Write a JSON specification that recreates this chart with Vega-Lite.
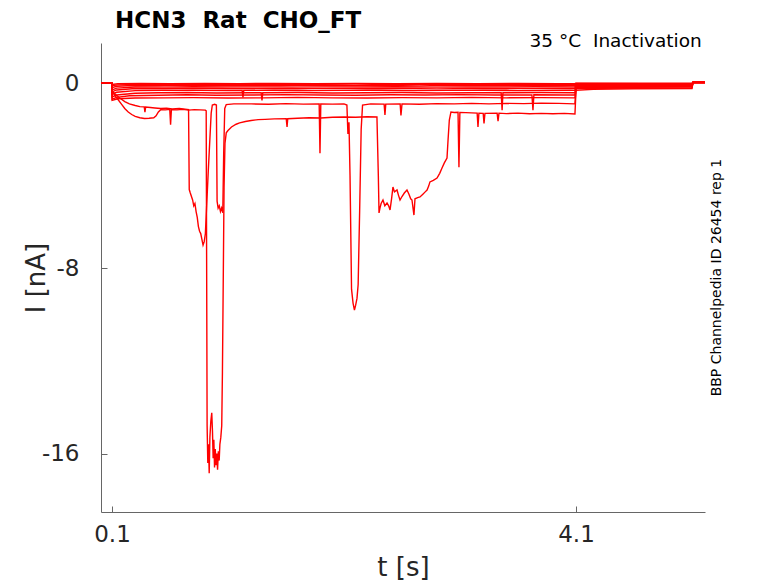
{
"$schema": "https://vega.github.io/schema/vega-lite/v6.json",
"width": 604, "height": 469,
"autosize": {"type": "none"},
"padding": {"left": 101, "top": 43, "right": 73, "bottom": 71},
"background": "white",
"title": {"text": "HCN3\u00a0\u00a0Rat\u00a0\u00a0CHO_FT", "anchor": "start", "frame": "group", "dx": 14, "offset": -1, "fontSize": 23, "fontWeight": "bold", "font": "DejaVu Sans", "color": "black"},
"config": {"view": {"stroke": null}},
"datasets": {
"traces": [
{"sweep":"s1","t":0.005,"I":0},{"sweep":"s1","t":0.098,"I":0},{"sweep":"s1","t":0.101,"I":-0.06},{"sweep":"s1","t":0.15,"I":-0.03},{"sweep":"s1","t":0.35,"I":-0.02},{"sweep":"s1","t":0.6,"I":-0.03},{"sweep":"s1","t":0.9,"I":-0.015},{"sweep":"s1","t":1.2,"I":-0.025},{"sweep":"s1","t":1.5,"I":-0.02},{"sweep":"s1","t":1.85,"I":-0.03},{"sweep":"s1","t":2.2,"I":-0.015},{"sweep":"s1","t":2.55,"I":-0.025},{"sweep":"s1","t":2.9,"I":-0.02},{"sweep":"s1","t":3.25,"I":-0.03},{"sweep":"s1","t":3.6,"I":-0.02},{"sweep":"s1","t":3.95,"I":-0.025},{"sweep":"s1","t":4.091,"I":-0.02},{"sweep":"s1","t":4.1,"I":-0.01},{"sweep":"s1","t":4.6,"I":-0.01},{"sweep":"s1","t":5.1,"I":-0.01},{"sweep":"s1","t":5.109,"I":0.04},{"sweep":"s1","t":5.212,"I":0.04},
{"sweep":"s2","t":0.005,"I":0},{"sweep":"s2","t":0.098,"I":0},{"sweep":"s2","t":0.101,"I":-0.12},{"sweep":"s2","t":0.15,"I":-0.08},{"sweep":"s2","t":0.3,"I":-0.06},{"sweep":"s2","t":0.55,"I":-0.07},{"sweep":"s2","t":0.8,"I":-0.05},{"sweep":"s2","t":1.05,"I":-0.065},{"sweep":"s2","t":1.3,"I":-0.055},{"sweep":"s2","t":1.6,"I":-0.07},{"sweep":"s2","t":1.9,"I":-0.06},{"sweep":"s2","t":2.2,"I":-0.05},{"sweep":"s2","t":2.5,"I":-0.065},{"sweep":"s2","t":2.8,"I":-0.06},{"sweep":"s2","t":3.1,"I":-0.07},{"sweep":"s2","t":3.4,"I":-0.055},{"sweep":"s2","t":3.7,"I":-0.065},{"sweep":"s2","t":4.0,"I":-0.06},{"sweep":"s2","t":4.091,"I":-0.06},{"sweep":"s2","t":4.1,"I":-0.02},{"sweep":"s2","t":4.7,"I":-0.025},{"sweep":"s2","t":5.1,"I":-0.02},{"sweep":"s2","t":5.109,"I":0.03},{"sweep":"s2","t":5.212,"I":0.035},
{"sweep":"s3","t":0.005,"I":0},{"sweep":"s3","t":0.098,"I":0},{"sweep":"s3","t":0.101,"I":-0.2},{"sweep":"s3","t":0.14,"I":-0.14},{"sweep":"s3","t":0.28,"I":-0.11},{"sweep":"s3","t":0.5,"I":-0.12},{"sweep":"s3","t":0.75,"I":-0.1},{"sweep":"s3","t":1.0,"I":-0.115},{"sweep":"s3","t":1.25,"I":-0.105},{"sweep":"s3","t":1.55,"I":-0.12},{"sweep":"s3","t":1.85,"I":-0.1},{"sweep":"s3","t":2.15,"I":-0.115},{"sweep":"s3","t":2.45,"I":-0.11},{"sweep":"s3","t":2.75,"I":-0.125},{"sweep":"s3","t":3.05,"I":-0.1},{"sweep":"s3","t":3.35,"I":-0.115},{"sweep":"s3","t":3.65,"I":-0.105},{"sweep":"s3","t":3.95,"I":-0.12},{"sweep":"s3","t":4.091,"I":-0.11},{"sweep":"s3","t":4.1,"I":-0.04},{"sweep":"s3","t":4.6,"I":-0.045},{"sweep":"s3","t":5.1,"I":-0.04},{"sweep":"s3","t":5.109,"I":0.03},{"sweep":"s3","t":5.212,"I":0.03},
{"sweep":"s4","t":0.005,"I":0},{"sweep":"s4","t":0.098,"I":0},{"sweep":"s4","t":0.101,"I":-0.3},{"sweep":"s4","t":0.14,"I":-0.22},{"sweep":"s4","t":0.3,"I":-0.17},{"sweep":"s4","t":0.55,"I":-0.18},{"sweep":"s4","t":0.8,"I":-0.16},{"sweep":"s4","t":1.05,"I":-0.175},{"sweep":"s4","t":1.35,"I":-0.165},{"sweep":"s4","t":1.65,"I":-0.18},{"sweep":"s4","t":1.95,"I":-0.165},{"sweep":"s4","t":2.25,"I":-0.175},{"sweep":"s4","t":2.55,"I":-0.16},{"sweep":"s4","t":2.85,"I":-0.18},{"sweep":"s4","t":3.15,"I":-0.17},{"sweep":"s4","t":3.45,"I":-0.175},{"sweep":"s4","t":3.75,"I":-0.16},{"sweep":"s4","t":4.05,"I":-0.175},{"sweep":"s4","t":4.091,"I":-0.17},{"sweep":"s4","t":4.1,"I":-0.06},{"sweep":"s4","t":4.6,"I":-0.065},{"sweep":"s4","t":5.1,"I":-0.06},{"sweep":"s4","t":5.109,"I":0.02},{"sweep":"s4","t":5.212,"I":0.02},
{"sweep":"s5","t":0.005,"I":0},{"sweep":"s5","t":0.098,"I":0},{"sweep":"s5","t":0.101,"I":-0.38},{"sweep":"s5","t":0.14,"I":-0.3},{"sweep":"s5","t":0.3,"I":-0.24},{"sweep":"s5","t":0.55,"I":-0.25},{"sweep":"s5","t":0.8,"I":-0.23},{"sweep":"s5","t":1.1,"I":-0.245},{"sweep":"s5","t":1.4,"I":-0.235},{"sweep":"s5","t":1.7,"I":-0.25},{"sweep":"s5","t":2.0,"I":-0.23},{"sweep":"s5","t":2.3,"I":-0.245},{"sweep":"s5","t":2.6,"I":-0.24},{"sweep":"s5","t":2.9,"I":-0.255},{"sweep":"s5","t":3.2,"I":-0.235},{"sweep":"s5","t":3.5,"I":-0.245},{"sweep":"s5","t":3.8,"I":-0.24},{"sweep":"s5","t":4.05,"I":-0.25},{"sweep":"s5","t":4.091,"I":-0.24},{"sweep":"s5","t":4.1,"I":-0.08},{"sweep":"s5","t":4.6,"I":-0.085},{"sweep":"s5","t":5.1,"I":-0.08},{"sweep":"s5","t":5.109,"I":0.02},{"sweep":"s5","t":5.212,"I":0.02},
{"sweep":"s6","t":0.005,"I":0},{"sweep":"s6","t":0.098,"I":0},{"sweep":"s6","t":0.101,"I":-0.48},{"sweep":"s6","t":0.14,"I":-0.4},{"sweep":"s6","t":0.3,"I":-0.33},{"sweep":"s6","t":0.55,"I":-0.32},{"sweep":"s6","t":0.8,"I":-0.31},{"sweep":"s6","t":1.1,"I":-0.33},{"sweep":"s6","t":1.222,"I":-0.32},{"sweep":"s6","t":1.229,"I":-0.62},{"sweep":"s6","t":1.236,"I":-0.32},{"sweep":"s6","t":1.5,"I":-0.31},{"sweep":"s6","t":1.8,"I":-0.33},{"sweep":"s6","t":2.1,"I":-0.32},{"sweep":"s6","t":2.4,"I":-0.31},{"sweep":"s6","t":2.7,"I":-0.33},{"sweep":"s6","t":3.0,"I":-0.32},{"sweep":"s6","t":3.3,"I":-0.31},{"sweep":"s6","t":3.6,"I":-0.33},{"sweep":"s6","t":3.9,"I":-0.32},{"sweep":"s6","t":4.091,"I":-0.32},{"sweep":"s6","t":4.1,"I":-0.1},{"sweep":"s6","t":4.6,"I":-0.1},{"sweep":"s6","t":5.1,"I":-0.1},{"sweep":"s6","t":5.109,"I":0.01},{"sweep":"s6","t":5.212,"I":0.01},
{"sweep":"s7","t":0.005,"I":0},{"sweep":"s7","t":0.098,"I":0},{"sweep":"s7","t":0.101,"I":-0.6},{"sweep":"s7","t":0.14,"I":-0.52},{"sweep":"s7","t":0.3,"I":-0.44},{"sweep":"s7","t":0.5,"I":-0.42},{"sweep":"s7","t":0.75,"I":-0.41},{"sweep":"s7","t":1.0,"I":-0.43},{"sweep":"s7","t":1.3,"I":-0.42},{"sweep":"s7","t":1.386,"I":-0.42},{"sweep":"s7","t":1.393,"I":-0.75},{"sweep":"s7","t":1.4,"I":-0.42},{"sweep":"s7","t":1.7,"I":-0.41},{"sweep":"s7","t":2.0,"I":-0.43},{"sweep":"s7","t":2.3,"I":-0.42},{"sweep":"s7","t":2.6,"I":-0.41},{"sweep":"s7","t":2.9,"I":-0.43},{"sweep":"s7","t":3.2,"I":-0.42},{"sweep":"s7","t":3.455,"I":-0.42},{"sweep":"s7","t":3.463,"I":-1.17},{"sweep":"s7","t":3.47,"I":-0.42},{"sweep":"s7","t":3.8,"I":-0.41},{"sweep":"s7","t":4.091,"I":-0.42},{"sweep":"s7","t":4.1,"I":-0.13},{"sweep":"s7","t":4.6,"I":-0.13},{"sweep":"s7","t":5.1,"I":-0.12},{"sweep":"s7","t":5.109,"I":0.01},{"sweep":"s7","t":5.212,"I":0.01},
{"sweep":"s8","t":0.005,"I":0},{"sweep":"s8","t":0.098,"I":0},{"sweep":"s8","t":0.101,"I":-0.7},{"sweep":"s8","t":0.14,"I":-0.62},{"sweep":"s8","t":0.25,"I":-0.55},{"sweep":"s8","t":0.5,"I":-0.53},{"sweep":"s8","t":0.75,"I":-0.51},{"sweep":"s8","t":1.0,"I":-0.53},{"sweep":"s8","t":1.3,"I":-0.52},{"sweep":"s8","t":1.6,"I":-0.5},{"sweep":"s8","t":1.9,"I":-0.52},{"sweep":"s8","t":2.2,"I":-0.53},{"sweep":"s8","t":2.5,"I":-0.51},{"sweep":"s8","t":2.8,"I":-0.52},{"sweep":"s8","t":3.1,"I":-0.5},{"sweep":"s8","t":3.4,"I":-0.52},{"sweep":"s8","t":3.72,"I":-0.52},{"sweep":"s8","t":3.729,"I":-1.17},{"sweep":"s8","t":3.737,"I":-0.51},{"sweep":"s8","t":4.0,"I":-0.52},{"sweep":"s8","t":4.091,"I":-0.52},{"sweep":"s8","t":4.1,"I":-0.16},{"sweep":"s8","t":4.6,"I":-0.16},{"sweep":"s8","t":5.1,"I":-0.15},{"sweep":"s8","t":5.109,"I":0.02},{"sweep":"s8","t":5.212,"I":0.02},
{"sweep":"s9","t":0.005,"I":0},{"sweep":"s9","t":0.098,"I":0},{"sweep":"s9","t":0.101,"I":-0.75},{"sweep":"s9","t":0.15,"I":-0.68},{"sweep":"s9","t":0.3,"I":-0.65},{"sweep":"s9","t":0.55,"I":-0.64},{"sweep":"s9","t":0.8,"I":-0.63},{"sweep":"s9","t":1.1,"I":-0.65},{"sweep":"s9","t":1.4,"I":-0.64},{"sweep":"s9","t":1.7,"I":-0.62},{"sweep":"s9","t":2.0,"I":-0.64},{"sweep":"s9","t":2.3,"I":-0.65},{"sweep":"s9","t":2.6,"I":-0.63},{"sweep":"s9","t":2.9,"I":-0.64},{"sweep":"s9","t":3.2,"I":-0.62},{"sweep":"s9","t":3.5,"I":-0.64},{"sweep":"s9","t":3.8,"I":-0.63},{"sweep":"s9","t":4.091,"I":-0.64},{"sweep":"s9","t":4.1,"I":-0.2},{"sweep":"s9","t":4.6,"I":-0.19},{"sweep":"s9","t":5.1,"I":-0.18},{"sweep":"s9","t":5.109,"I":0.03},{"sweep":"s9","t":5.212,"I":0.03},
{"sweep":"p","t":0.005,"I":0},{"sweep":"p","t":0.098,"I":0},{"sweep":"p","t":0.101,"I":-0.35},{"sweep":"p","t":0.13,"I":-0.5},{"sweep":"p","t":0.17,"I":-0.66},{"sweep":"p","t":0.21,"I":-0.8},{"sweep":"p","t":0.25,"I":-0.9},{"sweep":"p","t":0.3,"I":-0.97},{"sweep":"p","t":0.34,"I":-1.02},{"sweep":"p","t":0.378,"I":-1.03},{"sweep":"p","t":0.384,"I":-1.26},{"sweep":"p","t":0.39,"I":-1.04},{"sweep":"p","t":0.43,"I":-1.06},{"sweep":"p","t":0.47,"I":-1.08},{"sweep":"p","t":0.52,"I":-1.1},{"sweep":"p","t":0.57,"I":-1.09},{"sweep":"p","t":0.62,"I":-1.12},{"sweep":"p","t":0.68,"I":-1.1},{"sweep":"p","t":0.73,"I":-1.13},{"sweep":"p","t":0.76,"I":-1.15},{"sweep":"p","t":0.766,"I":-4.6},{"sweep":"p","t":0.775,"I":-4.75},{"sweep":"p","t":0.785,"I":-4.9},{"sweep":"p","t":0.795,"I":-5.05},{"sweep":"p","t":0.805,"I":-5.3},{"sweep":"p","t":0.815,"I":-5.2},{"sweep":"p","t":0.825,"I":-5.55},{"sweep":"p","t":0.835,"I":-5.8},{"sweep":"p","t":0.845,"I":-6.2},{"sweep":"p","t":0.855,"I":-6.4},{"sweep":"p","t":0.865,"I":-6.5},{"sweep":"p","t":0.875,"I":-6.75},{"sweep":"p","t":0.885,"I":-7.0},{"sweep":"p","t":0.895,"I":-6.85},{"sweep":"p","t":0.905,"I":-6.5},{"sweep":"p","t":0.93,"I":-3.8},{"sweep":"p","t":0.955,"I":-1.3},{"sweep":"p","t":0.965,"I":-0.95},{"sweep":"p","t":0.985,"I":-0.92},{"sweep":"p","t":1.0,"I":-0.95},{"sweep":"p","t":1.006,"I":-5.1},{"sweep":"p","t":1.015,"I":-5.4},{"sweep":"p","t":1.025,"I":-5.3},{"sweep":"p","t":1.035,"I":-5.55},{"sweep":"p","t":1.045,"I":-5.4},{"sweep":"p","t":1.055,"I":-5.6},{"sweep":"p","t":1.063,"I":-3.0},{"sweep":"p","t":1.072,"I":-1.1},{"sweep":"p","t":1.085,"I":-0.93},{"sweep":"p","t":1.15,"I":-0.9},{"sweep":"p","t":1.3,"I":-0.9},{"sweep":"p","t":1.45,"I":-0.92},{"sweep":"p","t":1.6,"I":-0.89},{"sweep":"p","t":1.75,"I":-0.91},{"sweep":"p","t":1.886,"I":-0.9},{"sweep":"p","t":1.893,"I":-3.03},{"sweep":"p","t":1.9,"I":-0.9},{"sweep":"p","t":2.0,"I":-0.91},{"sweep":"p","t":2.1,"I":-0.9},{"sweep":"p","t":2.125,"I":-0.95},{"sweep":"p","t":2.134,"I":-2.2},{"sweep":"p","t":2.143,"I":-1.7},{"sweep":"p","t":2.152,"I":-4.0},{"sweep":"p","t":2.165,"I":-8.9},{"sweep":"p","t":2.178,"I":-9.5},{"sweep":"p","t":2.19,"I":-9.8},{"sweep":"p","t":2.2,"I":-9.6},{"sweep":"p","t":2.212,"I":-9.3},{"sweep":"p","t":2.222,"I":-8.7},{"sweep":"p","t":2.235,"I":-5.5},{"sweep":"p","t":2.248,"I":-2.0},{"sweep":"p","t":2.26,"I":-0.95},{"sweep":"p","t":2.33,"I":-0.9},{"sweep":"p","t":2.446,"I":-0.91},{"sweep":"p","t":2.453,"I":-1.38},{"sweep":"p","t":2.46,"I":-0.91},{"sweep":"p","t":2.584,"I":-0.9},{"sweep":"p","t":2.591,"I":-1.4},{"sweep":"p","t":2.6,"I":-0.9},{"sweep":"p","t":2.75,"I":-0.92},{"sweep":"p","t":2.9,"I":-0.89},{"sweep":"p","t":3.05,"I":-0.9},{"sweep":"p","t":3.2,"I":-0.88},{"sweep":"p","t":3.35,"I":-0.9},{"sweep":"p","t":3.5,"I":-0.88},{"sweep":"p","t":3.65,"I":-0.89},{"sweep":"p","t":3.8,"I":-0.87},{"sweep":"p","t":3.95,"I":-0.88},{"sweep":"p","t":4.091,"I":-0.9},{"sweep":"p","t":4.1,"I":-0.25},{"sweep":"p","t":4.3,"I":-0.23},{"sweep":"p","t":4.7,"I":-0.22},{"sweep":"p","t":5.1,"I":-0.21},{"sweep":"p","t":5.109,"I":0.04},{"sweep":"p","t":5.212,"I":0.04},
{"sweep":"q","t":0.005,"I":0},{"sweep":"q","t":0.098,"I":0},{"sweep":"q","t":0.101,"I":-0.4},{"sweep":"q","t":0.12,"I":-0.5},{"sweep":"q","t":0.15,"I":-0.7},{"sweep":"q","t":0.18,"I":-0.9},{"sweep":"q","t":0.21,"I":-1.1},{"sweep":"q","t":0.24,"I":-1.25},{"sweep":"q","t":0.27,"I":-1.36},{"sweep":"q","t":0.3,"I":-1.44},{"sweep":"q","t":0.34,"I":-1.5},{"sweep":"q","t":0.38,"I":-1.53},{"sweep":"q","t":0.42,"I":-1.52},{"sweep":"q","t":0.46,"I":-1.5},{"sweep":"q","t":0.48,"I":-1.42},{"sweep":"q","t":0.5,"I":-1.25},{"sweep":"q","t":0.52,"I":-1.15},{"sweep":"q","t":0.56,"I":-1.16},{"sweep":"q","t":0.598,"I":-1.14},{"sweep":"q","t":0.605,"I":-1.8},{"sweep":"q","t":0.612,"I":-1.15},{"sweep":"q","t":0.66,"I":-1.16},{"sweep":"q","t":0.71,"I":-1.14},{"sweep":"q","t":0.76,"I":-1.17},{"sweep":"q","t":0.81,"I":-1.15},{"sweep":"q","t":0.86,"I":-1.16},{"sweep":"q","t":0.905,"I":-1.17},{"sweep":"q","t":0.912,"I":-1.2},{"sweep":"q","t":0.92,"I":-14.8},{"sweep":"q","t":0.926,"I":-16.4},{"sweep":"q","t":0.932,"I":-15.6},{"sweep":"q","t":0.938,"I":-16.85},{"sweep":"q","t":0.944,"I":-15.3},{"sweep":"q","t":0.952,"I":-14.6},{"sweep":"q","t":0.96,"I":-14.24},{"sweep":"q","t":0.966,"I":-15.0},{"sweep":"q","t":0.972,"I":-16.2},{"sweep":"q","t":0.978,"I":-15.4},{"sweep":"q","t":0.984,"I":-16.6},{"sweep":"q","t":0.99,"I":-15.8},{"sweep":"q","t":0.997,"I":-16.5},{"sweep":"q","t":1.004,"I":-16.0},{"sweep":"q","t":1.01,"I":-16.7},{"sweep":"q","t":1.017,"I":-15.9},{"sweep":"q","t":1.024,"I":-16.3},{"sweep":"q","t":1.03,"I":-15.6},{"sweep":"q","t":1.038,"I":-15.3},{"sweep":"q","t":1.046,"I":-14.8},{"sweep":"q","t":1.052,"I":-12.5},{"sweep":"q","t":1.06,"I":-8.0},{"sweep":"q","t":1.066,"I":-4.5},{"sweep":"q","t":1.074,"I":-2.6},{"sweep":"q","t":1.085,"I":-2.15},{"sweep":"q","t":1.1,"I":-2.05},{"sweep":"q","t":1.13,"I":-1.9},{"sweep":"q","t":1.17,"I":-1.78},{"sweep":"q","t":1.2,"I":-1.72},{"sweep":"q","t":1.25,"I":-1.66},{"sweep":"q","t":1.3,"I":-1.62},{"sweep":"q","t":1.36,"I":-1.58},{"sweep":"q","t":1.42,"I":-1.57},{"sweep":"q","t":1.5,"I":-1.55},{"sweep":"q","t":1.602,"I":-1.54},{"sweep":"q","t":1.609,"I":-1.9},{"sweep":"q","t":1.615,"I":-1.54},{"sweep":"q","t":1.7,"I":-1.52},{"sweep":"q","t":1.8,"I":-1.5},{"sweep":"q","t":1.9,"I":-1.51},{"sweep":"q","t":2.0,"I":-1.48},{"sweep":"q","t":2.1,"I":-1.47},{"sweep":"q","t":2.2,"I":-1.48},{"sweep":"q","t":2.3,"I":-1.46},{"sweep":"q","t":2.384,"I":-1.47},{"sweep":"q","t":2.396,"I":-4.0},{"sweep":"q","t":2.402,"I":-5.61},{"sweep":"q","t":2.41,"I":-5.4},{"sweep":"q","t":2.42,"I":-5.2},{"sweep":"q","t":2.436,"I":-5.05},{"sweep":"q","t":2.452,"I":-5.3},{"sweep":"q","t":2.471,"I":-5.18},{"sweep":"q","t":2.485,"I":-5.3},{"sweep":"q","t":2.497,"I":-5.48},{"sweep":"q","t":2.51,"I":-5.0},{"sweep":"q","t":2.522,"I":-4.49},{"sweep":"q","t":2.535,"I":-4.7},{"sweep":"q","t":2.557,"I":-4.62},{"sweep":"q","t":2.57,"I":-4.85},{"sweep":"q","t":2.583,"I":-5.05},{"sweep":"q","t":2.6,"I":-4.9},{"sweep":"q","t":2.62,"I":-4.75},{"sweep":"q","t":2.643,"I":-4.62},{"sweep":"q","t":2.66,"I":-4.8},{"sweep":"q","t":2.675,"I":-5.0},{"sweep":"q","t":2.686,"I":-5.05},{"sweep":"q","t":2.703,"I":-5.7},{"sweep":"q","t":2.712,"I":-5.0},{"sweep":"q","t":2.735,"I":-4.95},{"sweep":"q","t":2.755,"I":-4.92},{"sweep":"q","t":2.78,"I":-4.8},{"sweep":"q","t":2.8,"I":-4.7},{"sweep":"q","t":2.816,"I":-4.62},{"sweep":"q","t":2.83,"I":-4.45},{"sweep":"q","t":2.841,"I":-4.27},{"sweep":"q","t":2.87,"I":-4.2},{"sweep":"q","t":2.902,"I":-4.1},{"sweep":"q","t":2.925,"I":-3.9},{"sweep":"q","t":2.945,"I":-3.67},{"sweep":"q","t":2.965,"I":-3.45},{"sweep":"q","t":2.988,"I":-3.24},{"sweep":"q","t":2.997,"I":-2.46},{"sweep":"q","t":3.008,"I":-1.6},{"sweep":"q","t":3.022,"I":-1.25},{"sweep":"q","t":3.05,"I":-1.27},{"sweep":"q","t":3.083,"I":-1.26},{"sweep":"q","t":3.091,"I":-3.64},{"sweep":"q","t":3.099,"I":-1.27},{"sweep":"q","t":3.15,"I":-1.28},{"sweep":"q","t":3.248,"I":-1.3},{"sweep":"q","t":3.255,"I":-1.9},{"sweep":"q","t":3.263,"I":-1.3},{"sweep":"q","t":3.3,"I":-1.31},{"sweep":"q","t":3.307,"I":-1.75},{"sweep":"q","t":3.315,"I":-1.31},{"sweep":"q","t":3.42,"I":-1.3},{"sweep":"q","t":3.428,"I":-1.65},{"sweep":"q","t":3.436,"I":-1.3},{"sweep":"q","t":3.5,"I":-1.32},{"sweep":"q","t":3.6,"I":-1.3},{"sweep":"q","t":3.7,"I":-1.33},{"sweep":"q","t":3.8,"I":-1.31},{"sweep":"q","t":3.9,"I":-1.33},{"sweep":"q","t":4.0,"I":-1.31},{"sweep":"q","t":4.091,"I":-1.34},{"sweep":"q","t":4.1,"I":-0.32},{"sweep":"q","t":4.25,"I":-0.27},{"sweep":"q","t":4.6,"I":-0.25},{"sweep":"q","t":5.1,"I":-0.24},{"sweep":"q","t":5.109,"I":0.04},{"sweep":"q","t":5.212,"I":0.04}
]
},
"layer": [
{
"data": {"name": "traces"},
"mark": {"type": "line", "color": "#ff0000", "strokeWidth": 1.4, "clip": true},
"encoding": {
"x": {"field": "t", "type": "quantitative", "scale": {"domain": [0.0052, 5.2121], "nice": false, "zero": false},
 "axis": {"values": [0.1, 4.1], "labelExpr": "format(datum.value, '.1f')", "title": "t [s]", "grid": false, "tickSize": -6, "labelPadding": 17, "domainColor": "#666666", "tickColor": "#666666", "labelFont": "DejaVu Sans", "labelFontSize": 23, "labelColor": "#262626", "titleFont": "DejaVu Sans", "titleFontSize": 26, "titleFontWeight": "normal", "titleColor": "#262626", "titlePadding": 8, "labelFlush": false}},
"y": {"field": "I", "type": "quantitative", "scale": {"domain": [-18.52, 1.727], "nice": false, "zero": false},
 "axis": {"values": [-16, -8, 0], "labelExpr": "'' + datum.value", "title": "I [nA]", "grid": false, "tickSize": -6, "labelPadding": 28, "domainColor": "#666666", "tickColor": "#666666", "labelFont": "DejaVu Sans", "labelFontSize": 23, "labelColor": "#262626", "titleFont": "DejaVu Sans", "titleFontSize": 26, "titleFontWeight": "normal", "titleColor": "#262626", "titlePadding": -8, "labelFlush": false}},
"detail": {"field": "sweep", "type": "nominal"}
}
},
{
"data": {"values": [{}]},
"mark": {"type": "text", "align": "right", "baseline": "alphabetic", "font": "DejaVu Sans", "fontSize": 18.5, "color": "black"},
"encoding": {"x": {"datum": 5.184, "type": "quantitative"}, "y": {"datum": 1.567, "type": "quantitative"}, "text": {"value": "35\u00a0°C\u00a0\u00a0Inactivation"}}
},
{
"data": {"values": [{}]},
"mark": {"type": "text", "align": "center", "baseline": "middle", "angle": 270, "font": "DejaVu Sans", "fontSize": 14, "color": "black"},
"encoding": {"x": {"datum": 5.315, "type": "quantitative"}, "y": {"datum": -8.4, "type": "quantitative"}, "text": {"value": "BBP Channelpedia ID 26454 rep 1"}}
}
]
}
